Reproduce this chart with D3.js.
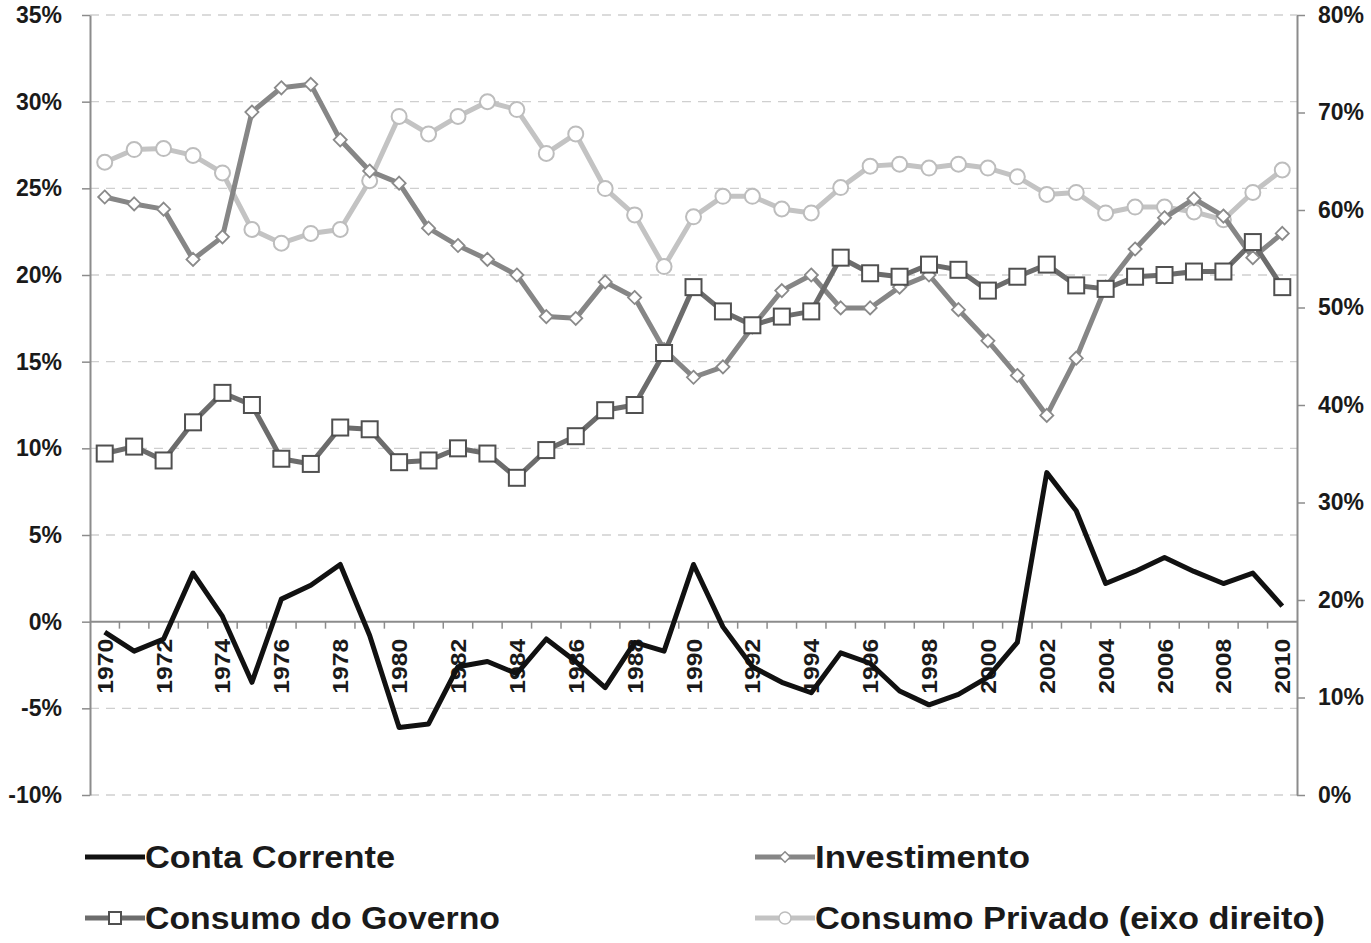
<!DOCTYPE html>
<html>
<head>
<meta charset="utf-8">
<script src="https://cdn.jsdelivr.net/npm/d3@7"></script>
<style>
  body { margin: 0; background: #fff; }
  svg text { font-family: "Liberation Sans", Arial, sans-serif; font-weight: bold; fill: #1a1a1a; }
</style>
</head>
<body>
<div id="chart"></div>
<script>
// data (% of GDP)
var years = d3.range(1970, 2011);

var contaCorrente = [-0.6, -1.7, -1.0, 2.8, 0.3, -3.5, 1.3, 2.1, 3.3, -0.8,
	-6.1, -5.9, -2.6, -2.3, -3.0, -1.0, -2.3, -3.8, -1.2, -1.7,
	3.3, -0.3, -2.6, -3.5, -4.1, -1.8, -2.4, -4.0, -4.8, -4.2,
	-3.2, -1.2, 8.6, 6.4, 2.2, 2.9, 3.7, 2.9, 2.2, 2.8, 0.9];

var investimento = [24.5, 24.1, 23.8, 20.9, 22.2, 29.4, 30.8, 31.0, 27.8, 26.0,
	25.3, 22.7, 21.7, 20.9, 20.0, 17.6, 17.5, 19.6, 18.7, 15.7,
	14.1, 14.7, 17.0, 19.1, 20.0, 18.1, 18.1, 19.3, 20.0, 18.0,
	16.2, 14.2, 11.9, 15.2, 19.3, 21.5, 23.3, 24.4, 23.4, 21.0, 22.4];

var consumoGoverno = [9.7, 10.1, 9.3, 11.5, 13.2, 12.5, 9.4, 9.1, 11.2, 11.1,
	9.2, 9.3, 10.0, 9.7, 8.3, 9.9, 10.7, 12.2, 12.5, 15.5,
	19.3, 17.9, 17.1, 17.6, 17.9, 21.0, 20.1, 19.9, 20.6, 20.3,
	19.1, 19.9, 20.6, 19.4, 19.2, 19.9, 20.0, 20.2, 20.2, 21.9, 19.3];

// eixo direito
var consumoPrivado = [64.9, 66.2, 66.3, 65.6, 63.8, 58.0, 56.6, 57.6, 58.0, 63.0,
	69.6, 67.8, 69.6, 71.1, 70.3, 65.8, 67.8, 62.2, 59.5, 54.2,
	59.3, 61.4, 61.4, 60.1, 59.7, 62.3, 64.5, 64.7, 64.3, 64.7,
	64.3, 63.4, 61.6, 61.8, 59.7, 60.3, 60.3, 59.8, 59.0, 61.8, 64.1];

var leftTicks = [-10, -5, 0, 5, 10, 15, 20, 25, 30, 35];
var rightTicks = [0, 10, 20, 30, 40, 50, 60, 70, 80];
var yearLabels = d3.range(1970, 2011, 2);

var legendNames = ['Conta Corrente', 'Investimento', 'Consumo do Governo', 'Consumo Privado (eixo direito)'];

// canvas
var svgWidth = 1371,
	svgHeight = 943;

var plot = { left: 90, right: 1297, top: 15, bottom: 795 };

var svg = d3.select('#chart')
	.append('svg')
	.attr('width', svgWidth)
	.attr('height', svgHeight);

var xScale = d3.scaleBand().domain(years).range([plot.left, plot.right]);
var yLeft = d3.scaleLinear().domain([-10, 35]).range([plot.bottom, plot.top]);
var yRight = d3.scaleLinear().domain([0, 80]).range([plot.bottom, plot.top]);
var cx = d => xScale(d) + xScale.bandwidth() / 2;

var axisColor = '#8c8c8c';

// gridlines
svg.append('g').selectAll('line')
	.data(leftTicks.filter(t => t !== 0))
	.enter()
	.append('line')
	.attr('x1', plot.left).attr('x2', plot.right)
	.attr('y1', d => yLeft(d)).attr('y2', d => yLeft(d))
	.attr('stroke', '#cfcfcf')
	.attr('stroke-width', 1.3)
	.attr('stroke-dasharray', '9,7');

// y axes
var leftAxis = svg.append('g')
	.attr('transform', `translate(${plot.left},0)`)
	.call(d3.axisLeft(yLeft).tickValues(leftTicks).tickFormat(d => d + '%').tickSize(8).tickSizeOuter(0).tickPadding(20));

var rightAxis = svg.append('g')
	.attr('transform', `translate(${plot.right},0)`)
	.call(d3.axisRight(yRight).tickValues(rightTicks).tickFormat(d => d + '%').tickSize(8).tickSizeOuter(0).tickPadding(13));

[leftAxis, rightAxis].forEach(a => {
	a.select('.domain').attr('stroke', axisColor).attr('stroke-width', 2);
	a.selectAll('.tick line').attr('stroke', axisColor).attr('stroke-width', 1.5);
	a.selectAll('.tick text').style('font-size', '23px').attr('fill', '#262626');
});

// x axis on the 0% line
var y0 = yLeft(0);
var xAxisG = svg.append('g');
xAxisG.append('line')
	.attr('x1', plot.left).attr('x2', plot.right)
	.attr('y1', y0).attr('y2', y0)
	.attr('stroke', axisColor).attr('stroke-width', 2);

xAxisG.selectAll('.xtick')
	.data(years.slice(1))
	.enter()
	.append('line')
	.attr('x1', d => xScale(d)).attr('x2', d => xScale(d))
	.attr('y1', y0).attr('y2', y0 + 7)
	.attr('stroke', axisColor).attr('stroke-width', 1.5);

xAxisG.selectAll('.xlabel')
	.data(yearLabels)
	.enter()
	.append('text')
	.attr('transform', d => `translate(${cx(d) + 8},${y0 + 17})rotate(-90)`)
	.attr('text-anchor', 'end')
	.attr('textLength', 55)
	.attr('lengthAdjust', 'spacingAndGlyphs')
	.style('font-size', '22px')
	.text(d => d);

// lines
var lineLeft = d3.line().x((d, i) => cx(years[i])).y(d => yLeft(d));
var lineRight = d3.line().x((d, i) => cx(years[i])).y(d => yRight(d));

// Consumo Privado
svg.append('path')
	.datum(consumoPrivado)
	.attr('d', lineRight)
	.attr('fill', 'none')
	.attr('stroke', '#c3c3c3')
	.attr('stroke-width', 5)
	.attr('stroke-linejoin', 'round');

svg.append('g').selectAll('circle')
	.data(consumoPrivado)
	.enter()
	.append('circle')
	.attr('cx', (d, i) => cx(years[i]))
	.attr('cy', d => yRight(d))
	.attr('r', 7.5)
	.attr('fill', '#fff')
	.attr('stroke', '#bdbdbd')
	.attr('stroke-width', 2);

// Investimento
svg.append('path')
	.datum(investimento)
	.attr('d', lineLeft)
	.attr('fill', 'none')
	.attr('stroke', '#868686')
	.attr('stroke-width', 5)
	.attr('stroke-linejoin', 'round');

svg.append('g').selectAll('path')
	.data(investimento)
	.enter()
	.append('path')
	.attr('d', d3.symbol(d3.symbolDiamond2, 110))
	.attr('transform', (d, i) => `translate(${cx(years[i])},${yLeft(d)})`)
	.attr('fill', '#fff')
	.attr('stroke', '#8a8a8a')
	.attr('stroke-width', 1.8);

// Consumo do Governo
svg.append('path')
	.datum(consumoGoverno)
	.attr('d', lineLeft)
	.attr('fill', 'none')
	.attr('stroke', '#6c6c6c')
	.attr('stroke-width', 5)
	.attr('stroke-linejoin', 'round');

svg.append('g').selectAll('rect')
	.data(consumoGoverno)
	.enter()
	.append('rect')
	.attr('x', (d, i) => cx(years[i]) - 8)
	.attr('y', d => yLeft(d) - 8)
	.attr('width', 16)
	.attr('height', 16)
	.attr('fill', '#fff')
	.attr('stroke', '#505050')
	.attr('stroke-width', 2);

// Conta Corrente
svg.append('path')
	.datum(contaCorrente)
	.attr('d', lineLeft)
	.attr('fill', 'none')
	.attr('stroke', '#111')
	.attr('stroke-width', 5)
	.attr('stroke-linejoin', 'round');

// legend
var legendItems = [
	{ x: 85, y: 857, w: 250, marker: 'none', color: '#111', mcolor: '#111' },
	{ x: 755, y: 857, w: 215, marker: 'diamond', color: '#868686', mcolor: '#8a8a8a' },
	{ x: 85, y: 918, w: 355, marker: 'square', color: '#6c6c6c', mcolor: '#505050' },
	{ x: 755, y: 918, w: 510, marker: 'circle', color: '#c3c3c3', mcolor: '#bdbdbd' }
];

var legend = svg.append('g');
legendItems.forEach((item, i) => {
	var g = legend.append('g').attr('transform', `translate(${item.x},${item.y})`);
	g.append('line')
		.attr('x1', 0).attr('x2', 60)
		.attr('stroke', item.color)
		.attr('stroke-width', 5);
	if (item.marker === 'square') {
		g.append('rect').attr('x', 24).attr('y', -6).attr('width', 12).attr('height', 12)
			.attr('fill', '#fff').attr('stroke', item.mcolor).attr('stroke-width', 2);
	} else if (item.marker === 'diamond') {
		g.append('path').attr('d', d3.symbol(d3.symbolDiamond2, 70))
			.attr('transform', 'translate(30,0)')
			.attr('fill', '#fff').attr('stroke', item.mcolor).attr('stroke-width', 1.5);
	} else if (item.marker === 'circle') {
		g.append('circle').attr('cx', 30).attr('r', 6)
			.attr('fill', '#fff').attr('stroke', item.mcolor).attr('stroke-width', 1.5);
	}
	g.append('text')
		.attr('x', 60)
		.attr('y', 11)
		.attr('textLength', item.w)
		.attr('lengthAdjust', 'spacingAndGlyphs')
		.style('font-size', '31px')
		.attr('fill', '#111')
		.text(legendNames[i]);
});
</script>
</body>
</html>
